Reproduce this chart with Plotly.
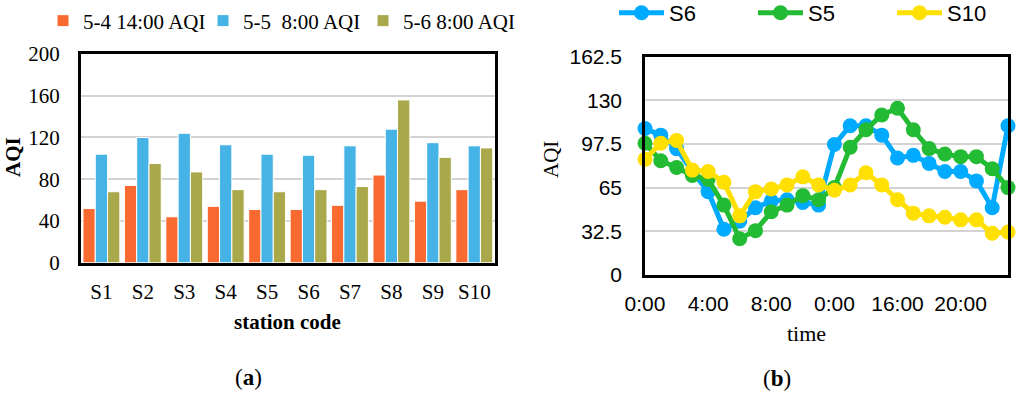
import plotly.graph_objects as go

# ---------------- data ----------------
stations = ["S1", "S2", "S3", "S4", "S5", "S6", "S7", "S8", "S9", "S10"]
aqi_0504_1400 = [52, 74, 44, 54, 51, 51, 55, 84, 59, 70]
aqi_0505_0800 = [104, 120, 124, 113, 104, 103, 112, 128, 115, 112]
aqi_0506_0800 = [68, 95, 87, 70, 68, 70, 73, 156, 101, 110]

hours = list(range(24))
time_tickvals = [0, 4, 8, 12, 16, 20]
time_ticktext = ["0:00", "4:00", "8:00", "0:00", "16:00", "20:00"]
s6 = [109, 104, 94, 77, 62, 34, 40, 50, 55, 56, 54, 52, 97, 111, 111, 104, 87, 89, 83, 77, 77, 70, 50, 111]
s5 = [98, 85, 80, 74, 71, 52, 27, 33, 47, 52, 59, 56, 65, 95, 108, 119, 124, 108, 94, 90, 88, 88, 79, 65]
s10 = [86, 98, 100, 78, 77, 69, 44, 62, 64, 67, 73, 67, 63, 67, 76, 67, 56, 46, 44, 43, 41, 41, 31, 32]

W, H = 1024, 394
SERIF = "Liberation Serif"
SANS = "Liberation Sans"


def px(x):
    return x / W


def py(y):
    return 1 - y / H


fig = go.Figure()

bar_colors = ["#F96A30", "#46B3E6", "#A9A84A"]
bar_names = ["5-4 14:00 AQI", "5-5  8:00 AQI", "5-6 8:00 AQI"]
for vals, col, name in zip([aqi_0504_1400, aqi_0505_0800, aqi_0506_0800], bar_colors, bar_names):
    fig.add_trace(go.Bar(
        x=stations, y=vals, name=name, marker=dict(color=col, line=dict(color="white", width=1)),
        xaxis="x", yaxis="y", legend="legend",
    ))

line_specs = [("S6", s6, "#00AAFF"), ("S5", s5, "#22BB33"), ("S10", s10, "#FFE000")]
for name, vals, col in line_specs:
    fig.add_trace(go.Scatter(
        x=hours, y=vals, name=name, mode="lines+markers",
        line=dict(color=col, width=5), marker=dict(color=col, size=15),
        xaxis="x2", yaxis="y2", legend="legend2", cliponaxis=False,
    ))

grid = "#D3D3D3"


def ann(text, x, y, size, family=SERIF, angle=0):
    return dict(text=text, x=px(x), y=py(y), xref="paper", yref="paper", showarrow=False,
                xanchor="center", yanchor="middle", textangle=angle,
                font=dict(family=family, size=size, color="black"))


fig.update_layout(
    width=W, height=H,
    margin=dict(l=0, r=0, t=0, b=0, autoexpand=False),
    paper_bgcolor="white", plot_bgcolor="white",
    barmode="group", bargap=0.11, bargroupgap=0.0,
    xaxis=dict(
        domain=[px(80.7), px(495)], anchor="y", range=[-0.5, 9.5], automargin=False,
        showline=True, mirror=True, linecolor="black", linewidth=2.5,
        ticks="outside", ticklen=8, tickcolor="rgba(0,0,0,0)",
        tickfont=dict(family=SERIF, size=21, color="black"), showgrid=False,
    ),
    yaxis=dict(
        domain=[py(262.7), py(54)], anchor="x", range=[0, 200], dtick=40, automargin=False,
        showline=True, mirror=True, linecolor="black", linewidth=2.5,
        ticks="outside", ticklen=14, tickcolor="rgba(0,0,0,0)",
        tickfont=dict(family=SERIF, size=21, color="black"),
        showgrid=True, gridcolor=grid, gridwidth=1.5, zeroline=False,
    ),
    xaxis2=dict(
        domain=[px(645), px(1008)], anchor="y2", range=[0, 23], automargin=False,
        tickvals=time_tickvals, ticktext=time_ticktext,
        showline=True, mirror=True, linecolor="black", linewidth=2.5,
        ticks="outside", ticklen=8, tickcolor="rgba(0,0,0,0)",
        tickfont=dict(family=SANS, size=21, color="black"), showgrid=False, zeroline=False,
    ),
    yaxis2=dict(
        domain=[py(275), py(56.5)], anchor="x2", range=[0, 162.5], automargin=False,
        tickvals=[0, 32.5, 65, 97.5, 130, 162.5], ticktext=["0", "32.5", "65", "97.5", "130", "162.5"],
        showline=True, mirror=True, linecolor="black", linewidth=2.5,
        ticks="outside", ticklen=16, tickcolor="rgba(0,0,0,0)",
        tickfont=dict(family=SANS, size=21, color="black"),
        showgrid=True, gridcolor=grid, gridwidth=1.5, zeroline=False,
    ),
    legend=dict(
        orientation="h", x=px(43), y=py(21), xanchor="left", yanchor="middle",
        font=dict(family=SERIF, size=21, color="black"), entrywidth=115, entrywidthmode="pixels",
        bgcolor="rgba(0,0,0,0)",
    ),
    legend2=dict(
        orientation="h", x=px(614), y=py(13), xanchor="left", yanchor="middle",
        font=dict(family=SANS, size=22, color="black"), entrywidth=79, entrywidthmode="pixels",
        itemwidth=45, bgcolor="rgba(0,0,0,0)",
    ),
    annotations=[
        ann("<b>AQI</b>", 13, 157, 21, angle=-90),
        ann("<b>station code</b>", 287, 322, 21),
        ann("(<b>a</b>)", 248, 377, 23),
        ann("AQI", 551, 160, 21, angle=-90),
        ann("time", 806, 333, 22),
        ann("(<b>b</b>)", 777, 378, 23),
    ],
)

fig.write_html("out.html", config={"displayModeBar": False},
               post_script="document.body.style.margin='0';")
